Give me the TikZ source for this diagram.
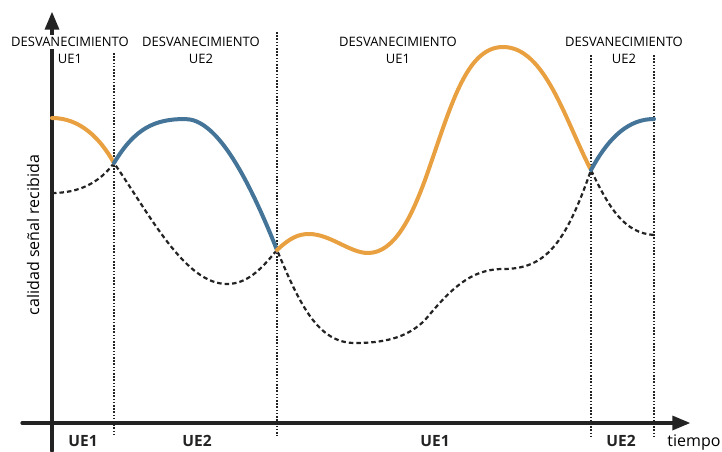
\documentclass[tikz,border=0pt]{standalone}
\usepackage{fontspec}
\setmainfont{Open Sans}
\usepackage{tikz}
\usetikzlibrary{arrows}
\definecolor{ffaa44}{RGB}{232,160,64}
\definecolor{4477aa}{RGB}{68,116,152}
\definecolor{qqqqqq}{RGB}{35,35,35}
\tikzstyle{every node}=[font=\fontsize{13}{15}\selectfont,inner sep=1pt]
\tikzstyle{fade}=[fill=white,inner sep=2pt]
\tikzstyle{who}=[font=\fontsize{15.5}{17}\bfseries,color=qqqqqq]
\tikzstyle{sep}=[line width=1.8pt,color=qqqqqq,dash pattern=on 1.6pt off 1.6pt,line cap=butt]
\tikzstyle{other}=[line width=2.2pt,color=qqqqqq,dash pattern=on 4.5pt off 3pt,line cap=butt]

\begin{document}
\begin{tikzpicture}[line cap=round,line join=round,>=triangle 45,x=1pt,y=-1pt]
            \useasboundingbox (0,0) rectangle (722,451);
            % ejes
            \draw [->,line width=3.2pt,color=qqqqqq] (52,451) -- (52,12);
            \draw [->,line width=3.2pt,color=qqqqqq] (22,423) -- (690,423);
            % separadores
            \draw [sep] (114,53) -- (114,436);
            \draw [sep] (277,32) -- (277,436);
            \draw [sep] (591,55) -- (591,436);
            \draw [sep] (654,55) -- (654,436);
            % cruces
            \coordinate (c1) at (114,163);
            \coordinate (c2) at (277,250);
            \coordinate (c3) at (591,170);
            % senal del otro usuario
            \draw [other] (52,193) .. controls (80,193) and (100,182) .. (c1)
                .. controls (150,215) and (185,284) .. (227,284)
                .. controls (250,284) and (265,264) .. (c2)
                .. controls (300,305) and (318,343) .. (355,343)
                .. controls (390,343) and (410,335) .. (425,320)
                .. controls (450,290) and (470,269) .. (503,269)
                .. controls (545,269) and (565,245) .. (c3)
                .. controls (610,210) and (625,233) .. (654,235);
            % senal recibida
            \draw [line width=4pt,color=ffaa44] (52,118) .. controls (80,118) and (100,138) .. (c1);
            \draw [line width=4pt,color=4477aa] (c1) .. controls (135,128) and (155,119) .. (185,119)
                .. controls (215,119) and (245,170) .. (c2);
            \draw [line width=4pt,color=ffaa44] (c2) .. controls (290,238) and (298,234) .. (309,234)
                .. controls (330,234) and (350,253) .. (368,253)
                .. controls (395,253) and (412,215) .. (425,180)
                .. controls (450,110) and (465,47) .. (503,47)
                .. controls (545,47) and (565,120) .. (c3);
            \draw [line width=4pt,color=4477aa] (c3) .. controls (610,135) and (630,119) .. (654,119);
            % textos
            \node [fade] (f1) at (70,42) {DESVANECIMIENTO};
            \node (u1) at (70,59) {UE1};
            \node [fade] (f2) at (201,42) {DESVANECIMIENTO};
            \node (u2) at (201,59) {UE2};
            \node [fade] (f3) at (398,42) {DESVANECIMIENTO};
            \node (u3) at (398,59) {UE1};
            \node [fade] (f4) at (624,42) {DESVANECIMIENTO};
            \node (u4) at (624,59) {UE2};
            \node [rotate=90,font=\fontsize{16}{18}\selectfont] (yl) at (33,235) {calidad señal recibida};
            \node [who] (b1) at (83,441) {UE1};
            \node [who] (b2) at (197,441) {UE2};
            \node [who] (b3) at (435,441) {UE1};
            \node [who] (b4) at (621,441) {UE2};
            \node [font=\fontsize{16}{18}\selectfont,anchor=base] (t) at (694,446) {tiempo};
\end{tikzpicture}
\end{document}
